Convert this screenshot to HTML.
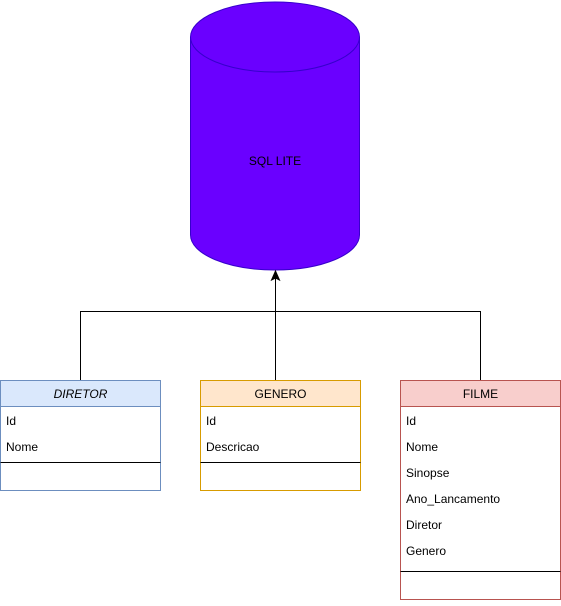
<!DOCTYPE html>
<html><head><style>body{margin:0;background:#fff}</style></head><body>
<svg width="561" height="601" xmlns="http://www.w3.org/2000/svg" font-family="Liberation Sans, sans-serif" font-size="12">
<path d="M190.5 37 A84.5 35 0 0 1 359.5 37 L359.5 235 A84.5 35 0 0 1 190.5 235 Z" fill="#6a00ff" stroke="#3700cc"/>
<path d="M190.5 37 A84.5 35 0 0 0 359.5 37" fill="none" stroke="#3700cc"/>
<text x="275" y="165" text-anchor="middle" fill="#000">SQL LITE</text>
<g stroke="#000" fill="none">
<path d="M275.5 380 V278"/>
<path d="M80.5 380 V311.5 H480.5 V380"/>
</g>
<path d="M275.5 271 L271.5 280 L275.5 278 L279.5 280 Z" fill="#000" stroke="#000"/>
<!-- DIRETOR -->
<rect x="0.5" y="380.5" width="160" height="110" fill="#fff" stroke="#6c8ebf"/>
<rect x="0.5" y="380.5" width="160" height="26" fill="#dae8fc" stroke="#6c8ebf"/>
<text x="80.5" y="398" text-anchor="middle" font-style="italic">DIRETOR</text>
<text x="6" y="425">Id</text><text x="6" y="451">Nome</text>
<path d="M0.5 462.5 H160.5" stroke="#000"/>
<!-- GENERO -->
<rect x="200.5" y="380.5" width="160" height="110" fill="#fff" stroke="#d79b00"/>
<rect x="200.5" y="380.5" width="160" height="26" fill="#ffe6cc" stroke="#d79b00"/>
<text x="280.5" y="398" text-anchor="middle">GENERO</text>
<text x="206" y="425">Id</text><text x="206" y="451">Descricao</text>
<path d="M200.5 462.5 H360.5" stroke="#000"/>
<!-- FILME -->
<rect x="400.5" y="380.5" width="160" height="219" fill="#fff" stroke="#b85450"/>
<rect x="400.5" y="380.5" width="160" height="26" fill="#f8cecc" stroke="#b85450"/>
<text x="480.5" y="398" text-anchor="middle">FILME</text>
<text x="406" y="425">Id</text><text x="406" y="451">Nome</text><text x="406" y="477">Sinopse</text>
<text x="406" y="503">Ano_Lancamento</text><text x="406" y="529">Diretor</text><text x="406" y="555">Genero</text>
<path d="M400.5 571.5 H560.5" stroke="#000"/>
</svg>
</body></html>
